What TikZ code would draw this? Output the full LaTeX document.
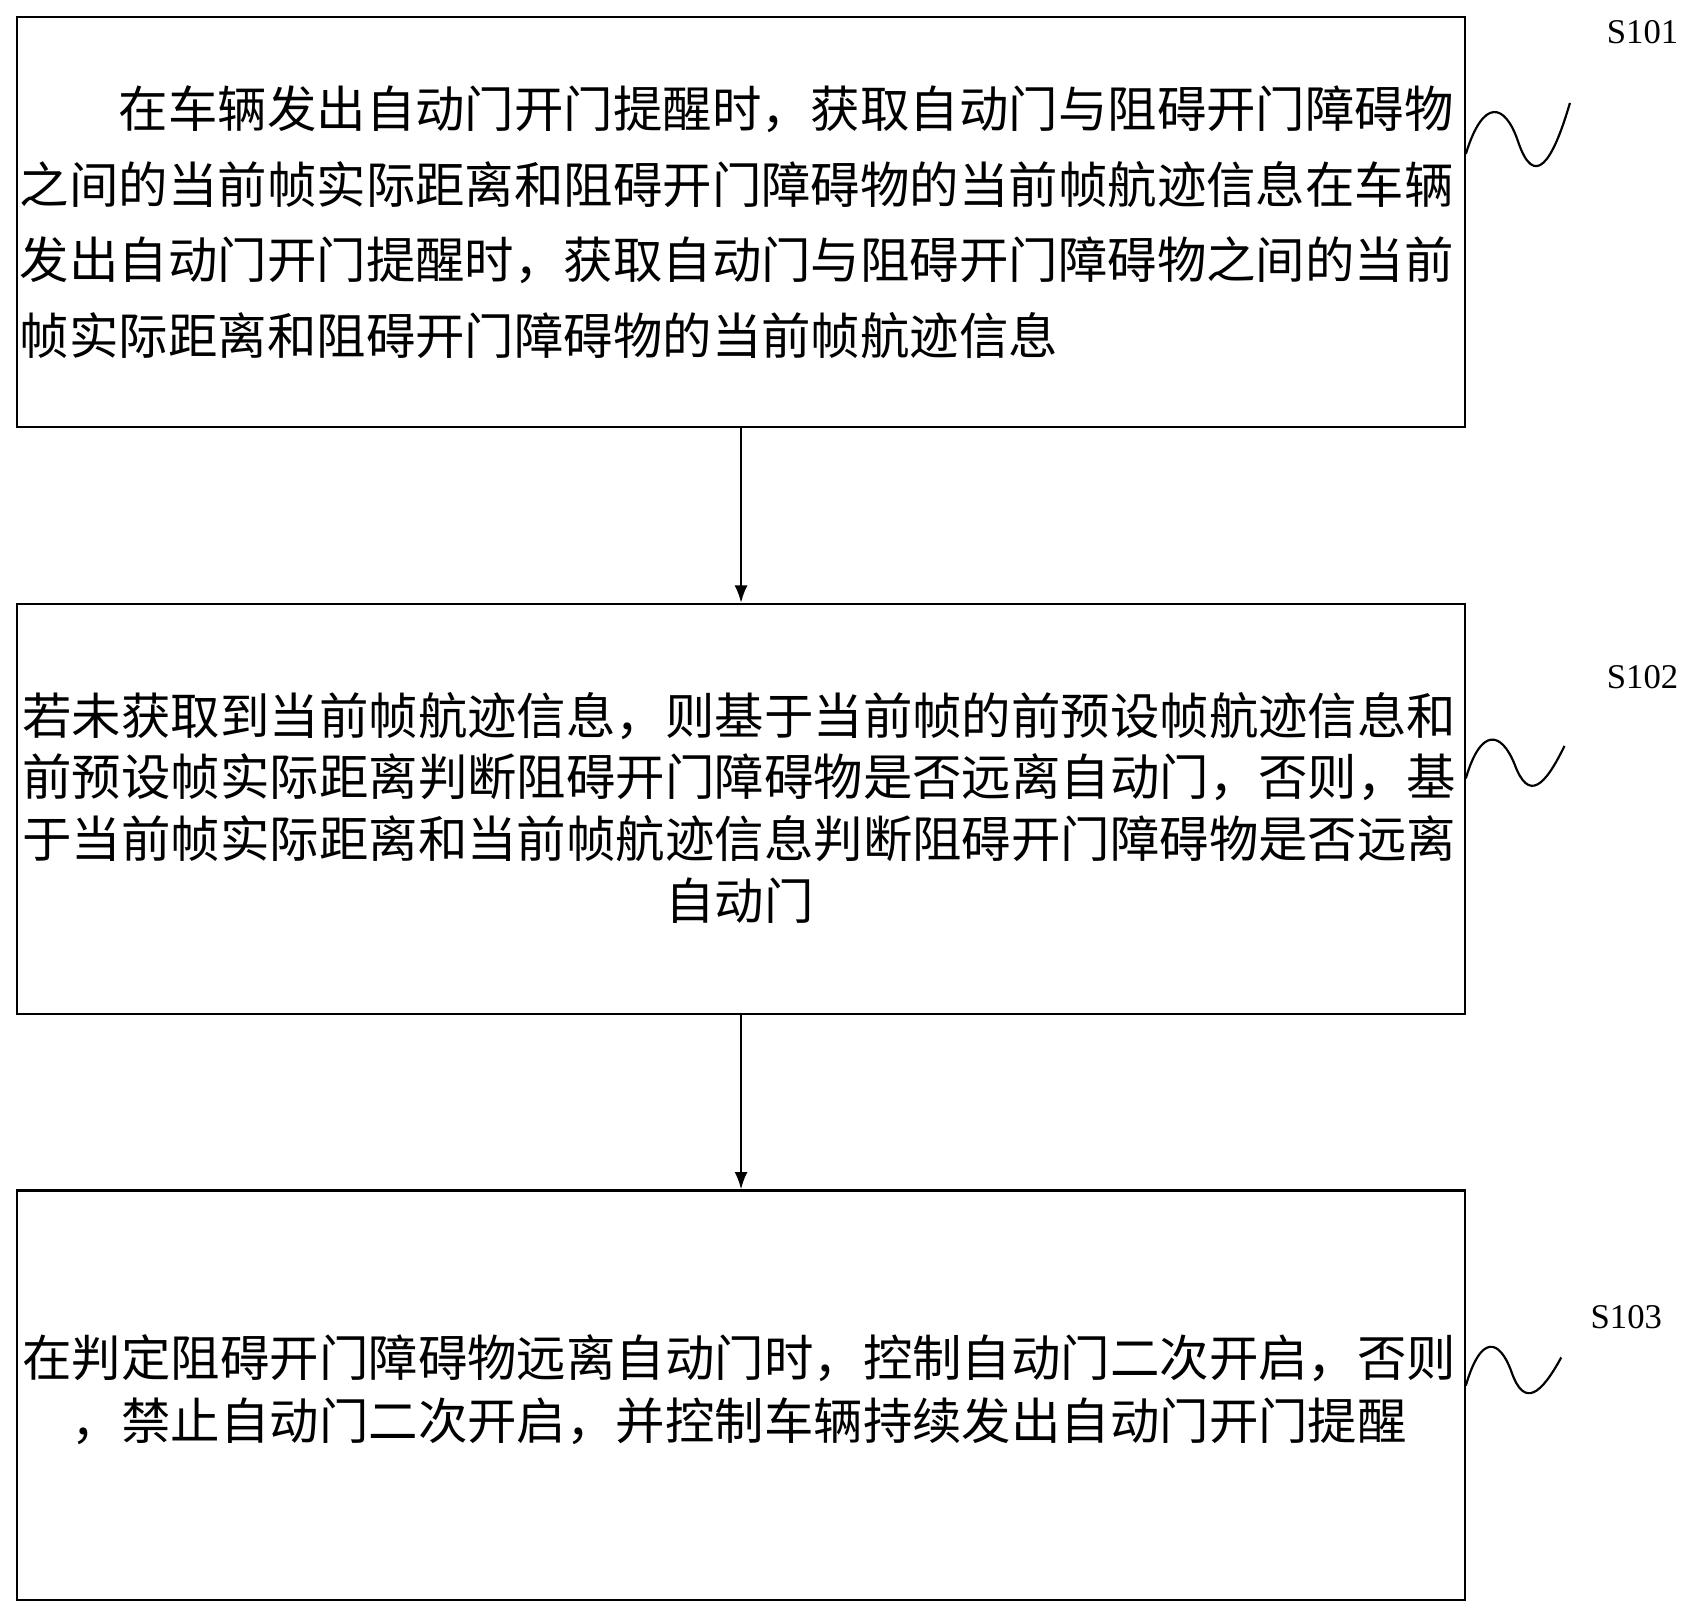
\documentclass[tikz,border=0pt]{standalone}
\usepackage{fontspec}
\setmainfont{Liberation Serif}
\newfontfamily\cjk{Noto Sans CJK SC}
\usetikzlibrary{arrows.meta}
\begin{document}
\begin{tikzpicture}[x=0.5pt,y=-0.5pt,
  stepbox/.style={draw,line width=1pt},
  txt/.style={font=\cjk\fontsize{22.8}{35}\selectfont,inner sep=0pt},
  lbl/.style={font=\fontsize{16}{18}\selectfont,inner sep=0pt},
  arr/.style={-{Latex[length=8pt,width=6pt]},line width=1pt},
  sq/.style={line width=1pt}]
\useasboundingbox (0,0) rectangle (1568,1491);
\node[stepbox,minimum width=667.5pt,minimum height=189pt,anchor=north west] (b1) at (15,15) {};
\node[stepbox,minimum width=667.5pt,minimum height=189pt,anchor=north west] (b2) at (15,556) {};
\node[stepbox,minimum width=667.5pt,minimum height=189pt,anchor=north west] (b3) at (15,1097) {};
\node[txt,align=left,anchor=west] (t1) at (18,205) {\hspace*{45.6pt}在车辆发出自动门开门提醒时，获取自动门与阻碍开门障碍物\\之间的当前帧实际距离和阻碍开门障碍物的当前帧航迹信息在车辆\\发出自动门开门提醒时，获取自动门与阻碍开门障碍物之间的当前\\帧实际距离和阻碍开门障碍物的当前帧航迹信息};
\node[txt,align=center,font=\cjk\fontsize{22.8}{28.5}\selectfont] (t2) at (682,745) {若未获取到当前帧航迹信息，则基于当前帧的前预设帧航迹信息和\\前预设帧实际距离判断阻碍开门障碍物是否远离自动门，否则，基\\于当前帧实际距离和当前帧航迹信息判断阻碍开门障碍物是否远离\\自动门};
\node[txt,align=center,font=\cjk\fontsize{22.8}{29}\selectfont] (t3) at (682,1282) {在判定阻碍开门障碍物远离自动门时，控制自动门二次开启，否则\\，禁止自动门二次开启，并控制车辆持续发出自动门开门提醒};
\draw[arr] (b1.south) -- (b2.north);
\draw[arr] (b2.south) -- (b3.north);
\node[lbl] (l1) at (1515,30) {S101};
\node[lbl] (l2) at (1515,625) {S102};
\node[lbl] (l3) at (1500,1215) {S103};
\draw[sq] (1352,142) .. controls (1368,90) and (1388,95) .. (1400,130) .. controls (1415,175) and (1432,150) .. (1448,95);
\draw[sq] (1352,718) .. controls (1366,670) and (1385,675) .. (1397,705) .. controls (1410,740) and (1425,725) .. (1443,688);
\draw[sq] (1352,1278) .. controls (1366,1230) and (1383,1235) .. (1394,1265) .. controls (1406,1300) and (1422,1285) .. (1440,1252);
\end{tikzpicture}
\end{document}
